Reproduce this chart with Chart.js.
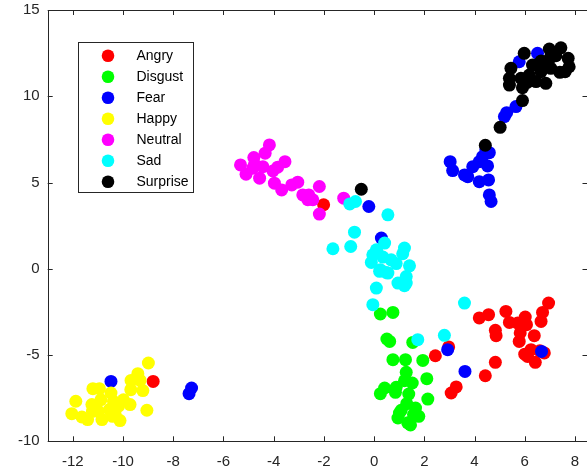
<!DOCTYPE html>
<html>
<head>
<meta charset="utf-8">
<title>Emotion clusters</title>
<script src="https://cdn.jsdelivr.net/npm/chart.js@4.4.1/dist/chart.umd.min.js"></script>
<style>
    html, body { margin: 0; padding: 0; background: #fff; overflow: hidden; }
    #wrap { width: 594px; height: 473px; }
</style>
</head>
<body>
<div id="wrap"><canvas id="scatterChart" width="594" height="473"></canvas></div>
<script>
// Category names and marker colours
const categories = ['Angry', 'Disgust', 'Fear', 'Happy', 'Neutral', 'Sad', 'Surprise'];
const colors = ['#ff0000', '#00ff00', '#0000ff', '#ffff00', '#ff00ff', '#00ffff', '#000000'];

// Tick labels
const xTicks = [-12, -10, -8, -6, -4, -2, 0, 2, 4, 6, 8];
const yTicks = [-10, -5, 0, 5, 10, 15];

// Points [x, y] per category
const angry = [
    [-8.80, -6.53], [-2.01, 3.71], [6.95, -1.99], [6.71, -2.53], [6.65, -3.05], [5.25, -2.47],
    [6.02, -2.80], [4.56, -2.66], [4.19, -2.85], [5.39, -3.11], [5.72, -3.15], [6.07, -3.24],
    [4.83, -3.57], [4.86, -3.88], [5.82, -3.72], [6.38, -3.88], [5.78, -4.21], [6.25, -4.69],
    [6.11, -5.08], [6.78, -4.88], [6.42, -5.42], [4.83, -5.42], [4.43, -6.20], [2.44, -5.04],
    [2.97, -4.53], [3.27, -6.85], [3.07, -7.20], [6.00, -4.95], [6.60, -4.75]
];
const disgust = [
    [0.25, -2.62], [0.75, -2.53], [0.51, -4.07], [0.62, -4.21], [1.54, -4.27], [0.75, -5.27],
    [1.25, -5.27], [1.94, -5.31], [1.28, -6.00], [1.21, -6.49], [1.52, -6.62], [2.10, -6.37],
    [0.42, -6.91], [0.25, -7.24], [0.88, -6.87], [0.85, -7.16], [1.38, -7.26], [2.14, -7.55],
    [1.30, -7.82], [1.08, -8.20], [1.65, -8.07], [1.78, -8.55], [0.95, -8.65], [1.34, -8.93],
    [1.57, -8.45], [1.01, -8.36], [1.45, -9.05]
];
const fear = [
    [-10.48, -6.53], [-7.27, -6.91], [-7.37, -7.24], [-0.21, 3.61], [0.29, 1.78], [2.93, -4.69],
    [3.62, -5.95], [6.67, -4.79], [6.51, 12.49], [5.78, 12.00], [5.65, 9.40], [5.19, 8.82],
    [5.28, 9.05], [3.03, 6.21], [3.13, 5.69], [3.60, 5.44], [3.73, 5.34], [3.93, 5.92],
    [4.19, 6.21], [4.32, 6.50], [4.59, 6.73], [4.52, 5.96], [4.19, 5.05], [4.56, 5.15],
    [4.59, 4.28], [4.66, 3.90], [4.45, 6.90]
];
const happy = [
    [-8.99, -5.46], [-9.41, -6.08], [-9.68, -6.47], [-9.32, -6.47], [-11.20, -6.95], [-10.94, -6.95],
    [-9.69, -7.01], [-9.21, -7.06], [-10.48, -7.20], [-11.88, -7.68], [-10.88, -7.59], [-9.98, -7.59],
    [-10.38, -7.68], [-11.24, -7.87], [-10.18, -7.97], [-9.72, -7.87], [-11.22, -8.26], [-10.98, -8.26],
    [-10.54, -8.16], [-9.05, -8.20], [-12.04, -8.40], [-10.31, -8.45], [-11.64, -8.59], [-11.41, -8.74],
    [-10.84, -8.74], [-10.12, -8.80], [-10.42, -8.55]
];
const neutral = [
    [-4.17, 7.18], [-4.34, 6.70], [-4.79, 6.45], [-5.32, 6.02], [-4.76, 6.06], [-4.43, 5.92],
    [-3.55, 6.21], [-3.84, 5.89], [-4.03, 5.67], [-5.10, 5.48], [-4.56, 5.25], [-4.83, 5.83],
    [-3.97, 4.96], [-3.68, 4.57], [-3.28, 4.86], [-3.04, 5.02], [-2.18, 4.77], [-2.84, 4.28],
    [-2.60, 4.28], [-2.44, 4.00], [-2.64, 4.00], [-2.18, 3.17], [-1.21, 4.09]
];
const sad = [
    [-0.97, 3.76], [-0.74, 3.90], [0.55, 3.13], [-0.78, 2.12], [-1.64, 1.16], [-0.93, 1.29],
    [0.42, 1.49], [0.09, 1.10], [-0.05, 0.81], [-0.11, 0.37], [0.35, 0.68], [0.68, 0.52],
    [0.25, -0.06], [0.48, -0.21], [1.21, 1.20], [1.14, 0.87], [1.41, 0.17], [1.28, -0.45],
    [0.95, -0.83], [1.21, -0.98], [0.09, -1.12], [-0.05, -2.08], [3.60, -1.99], [2.80, -3.86],
    [1.74, -4.11], [0.22, -0.15], [0.55, -0.25], [1.28, -0.83], [0.12, 0.95], [0.88, 0.30]
];
const surprise = [
    [-0.51, 4.61], [4.43, 7.16], [5.02, 8.20], [5.91, 9.75], [5.98, 12.49], [6.98, 12.74],
    [7.44, 12.81], [7.73, 12.20], [7.24, 12.35], [6.65, 12.04], [7.77, 11.71], [7.61, 11.42],
    [7.04, 11.62], [7.40, 11.39], [6.31, 11.81], [5.45, 11.62], [6.65, 11.42], [5.39, 11.04],
    [5.85, 11.04], [6.18, 11.23], [6.84, 10.75], [5.91, 10.50], [6.45, 10.85], [5.39, 10.65],
    [6.10, 10.80], [7.00, 12.20], [6.85, 11.90]
];

const groups = [angry, disgust, fear, happy, neutral, sad, surprise];

document.addEventListener('DOMContentLoaded', function() {
    const axisColor = '#262626';
    const fontFamily = '"Liberation Sans", Arial, sans-serif';

    // Box with inward tick marks, like MATLAB axes
    const axesBox = {
        id: 'axesBox',
        afterDraw(chart) {
            const ctx = chart.ctx;
            const a = chart.chartArea;
            const xs = chart.scales.x;
            const ys = chart.scales.y;
            ctx.save();
            ctx.strokeStyle = axisColor;
            ctx.lineWidth = 1;
            ctx.beginPath();
            ctx.strokeRect(Math.round(a.left) + 0.5, Math.round(a.top) + 0.5,
                Math.round(a.right - a.left), Math.round(a.bottom - a.top));
            xs.ticks.forEach(t => {
                const px = Math.round(xs.getPixelForValue(t.value)) + 0.5;
                ctx.moveTo(px, a.bottom);
                ctx.lineTo(px, a.bottom - 5);
                ctx.moveTo(px, a.top);
                ctx.lineTo(px, a.top + 5);
            });
            ys.ticks.forEach(t => {
                const py = Math.round(ys.getPixelForValue(t.value)) + 0.5;
                ctx.moveTo(a.left, py);
                ctx.lineTo(a.left + 5, py);
                ctx.moveTo(a.right, py);
                ctx.lineTo(a.right - 5, py);
            });
            ctx.stroke();
            ctx.restore();
        }
    };

    // Legend drawn inside the plot area
    const insideLegend = {
        id: 'insideLegend',
        afterDraw(chart) {
            const ctx = chart.ctx;
            const boxX = 78.5, boxY = 42.5, boxW = 115, boxH = 150;
            ctx.save();
            ctx.fillStyle = '#ffffff';
            ctx.fillRect(boxX, boxY, boxW, boxH);
            ctx.strokeStyle = axisColor;
            ctx.lineWidth = 1;
            ctx.strokeRect(boxX, boxY, boxW, boxH);
            ctx.font = '14px ' + fontFamily;
            ctx.textBaseline = 'middle';
            categories.forEach((name, i) => {
                const cy = 55.7 + i * 21;
                ctx.fillStyle = colors[i];
                ctx.beginPath();
                ctx.arc(108, cy, 6.3, 0, Math.PI * 2);
                ctx.fill();
                ctx.fillStyle = '#000000';
                ctx.fillText(name, 136.5, cy + 0.5);
            });
            ctx.restore();
        }
    };

    const datasets = categories.map((name, i) => ({
        label: name,
        data: groups[i].map(p => ({ x: p[0], y: p[1] })),
        backgroundColor: colors[i],
        borderWidth: 0,
        pointRadius: 6.5,
        pointHoverRadius: 6.5,
        order: categories.length - 1 - i
    }));

    const ctx = document.getElementById('scatterChart').getContext('2d');
    new Chart(ctx, {
        type: 'scatter',
        data: { datasets: datasets },
        options: {
            responsive: false,
            animation: false,
            devicePixelRatio: 1,
            layout: { padding: { top: 10, right: 1.2, left: 0, bottom: 0 } },
            plugins: {
                legend: { display: false },
                tooltip: { enabled: false }
            },
            scales: {
                x: {
                    type: 'linear',
                    min: -13,
                    max: 8.5,
                    grid: { display: false, drawTicks: false },
                    border: { display: false },
                    afterBuildTicks: s => { s.ticks = xTicks.map(v => ({ value: v })); },
                    afterFit: s => {
                        s.height = 31.7;
                        s.paddingLeft = 0;
                        s.paddingRight = 0;
                    },
                    ticks: {
                        color: axisColor,
                        padding: 12,
                        maxRotation: 0,
                        font: { family: fontFamily, size: 15 }
                    }
                },
                y: {
                    type: 'linear',
                    min: -10,
                    max: 15,
                    grid: { display: false, drawTicks: false },
                    border: { display: false },
                    afterBuildTicks: s => { s.ticks = yTicks.map(v => ({ value: v })); },
                    afterFit: s => {
                        s.width = 47.7;
                        s.paddingTop = 0;
                        s.paddingBottom = 0;
                    },
                    ticks: {
                        color: axisColor,
                        padding: 8,
                        font: { family: fontFamily, size: 15 }
                    }
                }
            }
        },
        plugins: [axesBox, insideLegend]
    });
});
</script>
</body>
</html>
